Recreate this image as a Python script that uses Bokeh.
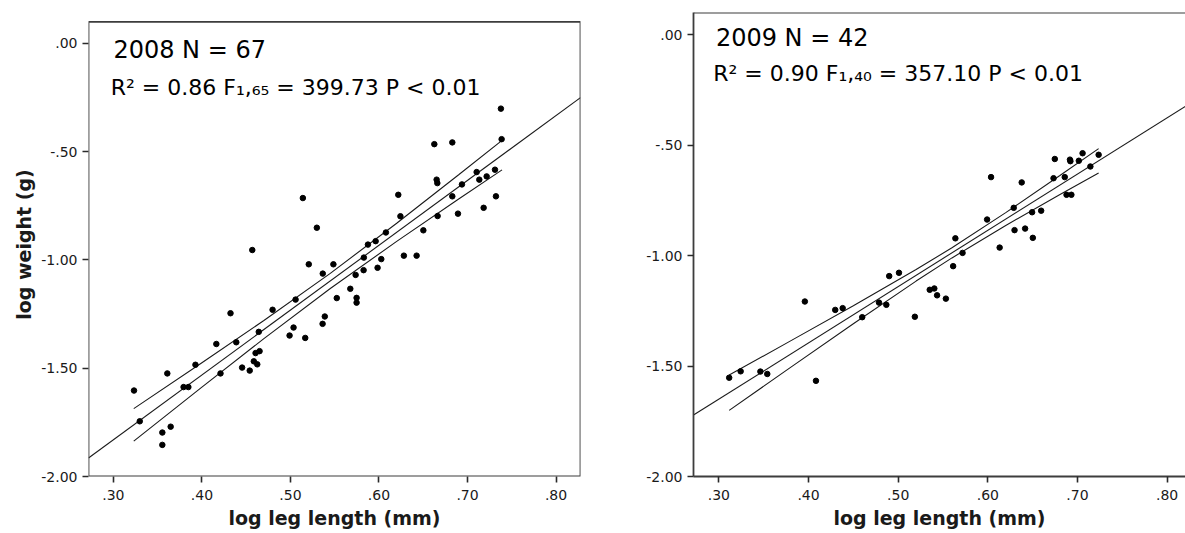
from bokeh.plotting import figure
from bokeh.layouts import row
from bokeh.models import (Range1d, FixedTicker, CustomJSTickFormatter, LinearAxis, Label, Span,
                          BoxAnnotation)
from bokeh.embed import file_html
from bokeh.resources import INLINE

# ---------------- data: 2008 ----------------
x08 = [0.3233, 0.3609, 0.3298, 0.3647, 0.3553, 0.3553, 0.3793, 0.3847, 0.3927, 0.4163,
       0.4210, 0.4323, 0.4388, 0.4454, 0.4540, 0.4586, 0.4625, 0.4606, 0.4651, 0.4642,
       0.4798, 0.4990, 0.5035, 0.5058, 0.5167, 0.5207, 0.5363, 0.5365, 0.5388, 0.5485,
       0.5523, 0.5676, 0.5736, 0.5747, 0.5747, 0.5826, 0.5829, 0.5984, 0.6026, 0.5140,
       0.5298, 0.5875, 0.5962, 0.6078, 0.6218, 0.6242, 0.6281, 0.6425, 0.6501, 0.6625,
       0.6651, 0.6659, 0.6662, 0.6828, 0.6828, 0.6892, 0.6937, 0.7103, 0.7133, 0.7182,
       0.7216, 0.7310, 0.7321, 0.7377, 0.7385, 0.4569]
y08 = [-1.603, -1.524, -1.745, -1.770, -1.797, -1.854, -1.587, -1.587, -1.484, -1.388,
       -1.524, -1.246, -1.380, -1.497, -1.511, -1.468, -1.482, -1.430, -1.421, -1.332,
       -1.230, -1.349, -1.312, -1.183, -1.360, -1.020, -1.295, -1.063, -1.261, -1.020,
       -1.176, -1.133, -1.069, -1.175, -1.197, -1.047, -0.989, -1.036, -0.996, -0.714,
       -0.851, -0.929, -0.913, -0.873, -0.699, -0.798, -0.980, -0.980, -0.863, -0.465,
       -0.629, -0.645, -0.797, -0.457, -0.706, -0.786, -0.651, -0.594, -0.629, -0.759,
       -0.614, -0.583, -0.706, -0.301, -0.442, -0.954]
fit08_slope = 2.995
fit08_intercept = -2.729
fit08_x = [0.2719, 0.8276]
band08_x = [0.323, 0.40, 0.47, 0.545, 0.62, 0.69, 0.739]
band08_half = [0.075, 0.056, 0.042, 0.035, 0.042, 0.056, 0.068]

# ---------------- data: 2009 ----------------
x09 = [0.3115, 0.3243, 0.3463, 0.3540, 0.3959, 0.4083, 0.4298, 0.4381, 0.4599, 0.4786,
       0.4868, 0.4900, 0.5009, 0.5186, 0.5352, 0.5403, 0.5434, 0.5532, 0.5613, 0.5718,
       0.5638, 0.5992, 0.6132, 0.6298, 0.6289, 0.6416, 0.6502, 0.6494, 0.6595, 0.6036,
       0.6378, 0.6733, 0.6747, 0.6858, 0.6878, 0.6932, 0.6921, 0.7015, 0.7057, 0.7144,
       0.7236, 0.6916]
y09 = [-1.553, -1.524, -1.525, -1.536, -1.208, -1.567, -1.246, -1.238, -1.279, -1.213,
       -1.223, -1.093, -1.078, -1.277, -1.155, -1.149, -1.180, -1.195, -1.048, -0.988,
       -0.922, -0.837, -0.964, -0.885, -0.784, -0.878, -0.920, -0.804, -0.797, -0.645,
       -0.669, -0.650, -0.563, -0.645, -0.725, -0.725, -0.573, -0.571, -0.537, -0.597,
       -0.544, -0.566]
fit09_slope = 2.547
fit09_intercept = -2.414
fit09_x = [0.2717, 0.8276]
band09_x = [0.3115, 0.38, 0.45, 0.52, 0.56, 0.62, 0.68, 0.7236]
band09_half = [0.080, 0.060, 0.041, 0.026, 0.023, 0.029, 0.043, 0.055]

y_ticks = [0.0, -0.5, -1.0, -1.5, -2.0]
x_ticks = [0.3, 0.4, 0.5, 0.6, 0.7, 0.8]

FONT = "DejaVu Sans"
FRAME = "#3d3d3d"
INK = "#1a1a1a"

fmt_code = "return tick.toFixed(2).replace('0.', '.');"


def panel(xs, ys, slope, intercept, fx, bx, bh, title, stats, xr, yr, border_left,
          border_right, ylabel, tx, ty1, ty2, boxed):
    p = figure(frame_width=492, frame_height=464,
               min_border_left=border_left, min_border_right=border_right,
               min_border_top=12, min_border_bottom=57,
               x_range=Range1d(*xr), y_range=Range1d(*yr),
               output_backend="svg", toolbar_location=None,
               x_axis_location=None, y_axis_location=None)
    p.outline_line_color = None
    p.xgrid.visible = False
    p.ygrid.visible = False
    p.background_fill_color = "white"
    p.border_fill_color = "white"

    ax_b = LinearAxis(ticker=FixedTicker(ticks=x_ticks), formatter=CustomJSTickFormatter(code=fmt_code),
                      axis_label="log leg length (mm)")
    ax_l = LinearAxis(ticker=FixedTicker(ticks=y_ticks), formatter=CustomJSTickFormatter(code=fmt_code),
                      axis_label=ylabel)
    for ax in (ax_b, ax_l):
        ax.axis_line_color = None if boxed else FRAME
        ax.axis_line_width = 1.8
        ax.major_tick_line_color = "#2a2a2a"
        ax.major_tick_line_width = 1.6
        ax.major_tick_out = 6
        ax.major_tick_in = 0
        ax.minor_tick_line_color = None
        ax.major_label_text_font = FONT
        ax.major_label_text_font_size = "14px"
        ax.major_label_text_color = INK
        ax.axis_label_text_font = FONT
        ax.axis_label_text_font_size = "19px"
        ax.axis_label_text_font_style = "bold"
        ax.axis_label_text_color = INK
    ax_b.major_label_standoff = 7
    ax_b.axis_label_standoff = 4
    ax_l.major_label_standoff = 5
    ax_l.axis_label_standoff = 3
    p.add_layout(ax_b, "below")
    p.add_layout(ax_l, "left")

    if boxed:
        p.add_layout(BoxAnnotation(left=xr[0], right=xr[1], bottom=-2.0, top=0.1,
                                   fill_color=None, fill_alpha=0,
                                   line_color=FRAME, line_alpha=1.0, line_width=1.8))
    else:
        p.add_layout(Span(location=0.1, dimension="width", line_color=FRAME, line_width=1.8))

    fy = [intercept + slope * v for v in fx]
    p.line(fx, fy, line_color=INK, line_width=1.1)
    up = [intercept + slope * v + h for v, h in zip(bx, bh)]
    lo = [intercept + slope * v - h for v, h in zip(bx, bh)]
    p.line(bx, up, line_color=INK, line_width=1.1)
    p.line(bx, lo, line_color=INK, line_width=1.1)

    p.scatter(xs, ys, size=5.5, fill_color="black", line_color="black")

    p.add_layout(Label(x=tx, y=ty1, text=title, text_font=FONT, text_font_size="24px",
                       text_color="black", text_baseline="alphabetic", text_align="left"))
    p.add_layout(Label(x=tx - 0.003, y=ty2, text=stats, text_font=FONT, text_font_size="22px",
                       text_color="black", text_baseline="alphabetic", text_align="left"))
    return p


p1 = panel(x08, y08, fit08_slope, fit08_intercept, fit08_x, band08_x, band08_half,
           "2008 N = 67", "R\u00b2 = 0.86 F\u2081,\u2086\u2085 = 399.73 P < 0.01",
           (0.2719, 0.8276), (-2.0, 0.143), 88, 20, "log weight (g)", 0.300, -0.028, -0.203, True)
p2 = panel(x09, y09, fit09_slope, fit09_intercept, fit09_x, band09_x, band09_half,
           "2009 N = 42", "R\u00b2 = 0.90 F\u2081,\u2084\u2080 = 357.10 P < 0.01",
           (0.2717, 0.8205), (-2.0, 0.1), 93, 0, None, 0.2967, -0.016, -0.175, False)

layout = row(p1, p2)
open("out.html", "w").write(file_html(layout, INLINE))
